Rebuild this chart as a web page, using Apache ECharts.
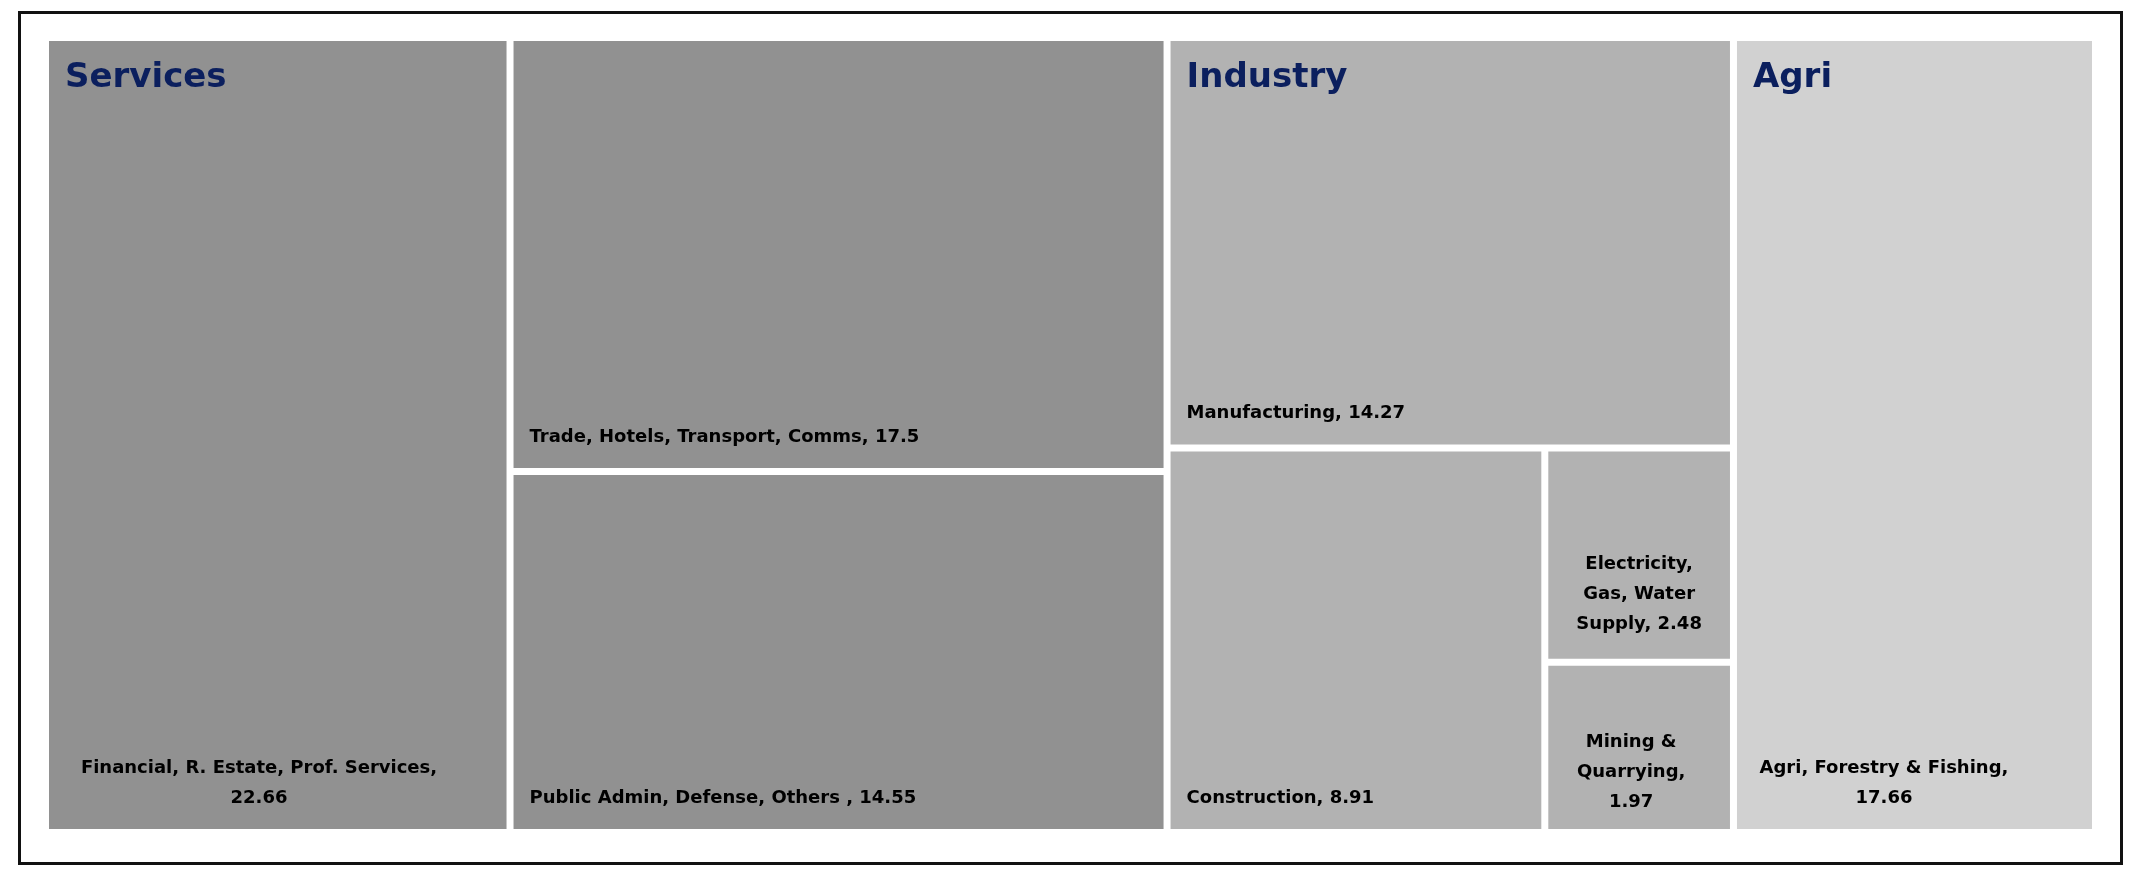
<!DOCTYPE html>
<html><head><meta charset="utf-8">
<script src="https://cdn.jsdelivr.net/npm/echarts@6/dist/echarts.min.js"></script>
<style>html,body{margin:0;padding:0;background:#fff}#c{width:2138px;height:884px}
#frame{position:absolute;left:18px;top:11px;width:2099px;height:848px;border:3px solid #111;pointer-events:none}</style>
</head><body><div id="c"></div><div id="frame"></div>
<script>
const groups = ['Services', 'Industry', 'Agri'];
const groupColors = ['#919191', '#b2b2b2', '#d1d1d1'];
const servicesNames = ['Financial, R. Estate, Prof. Services', 'Trade, Hotels, Transport, Comms', 'Public Admin, Defense, Others '];
const servicesValues = [22.66, 17.5, 14.55];
const industryNames = ['Manufacturing', 'Construction', 'Electricity, Gas, Water Supply', 'Mining & Quarrying'];
const industryValues = [14.27, 8.91, 2.48, 1.97];
const agriNames = ['Agri, Forestry & Fishing'];
const agriValues = [17.66];

const labelText = {
  'Financial, R. Estate, Prof. Services': 'Financial, R. Estate, Prof. Services,\n22.66',
  'Electricity, Gas, Water Supply': 'Electricity,\nGas, Water\nSupply, 2.48',
  'Mining & Quarrying': 'Mining &\nQuarrying,\n1.97',
  'Agri, Forestry & Fishing': 'Agri, Forestry & Fishing,\n17.66'
};

const sum = a => a.reduce((s, v) => s + v, 0);
const sT = sum(servicesValues), iT = sum(industryValues), aT = sum(agriValues);
const total = sT + iT + aT;
// slice-and-dice partition in value space (x: 0..100, y: 0..100)
const leafRects = [], groupRects = [];
let x = 0;
const sW = sT / total * 100, iW = iT / total * 100, aW = aT / total * 100;
groupRects.push([x, 0, x + sW, 100, 0]);
{
  const fW = servicesValues[0] / total * 100;
  leafRects.push([x, 0, x + fW, 100, 0, 0]);
  const rest = servicesValues[1] + servicesValues[2];
  const h1 = servicesValues[1] / rest * 100;
  leafRects.push([x + fW, 0, x + sW, h1, 0, 1]);
  leafRects.push([x + fW, h1, x + sW, 100, 0, 2]);
}
x += sW;
groupRects.push([x, 0, x + iW, 100, 1]);
{
  const mH = industryValues[0] / iT * 100;
  leafRects.push([x, 0, x + iW, mH, 1, 0]);
  const rest = iT - industryValues[0];
  const cW = industryValues[1] / rest * iW;
  leafRects.push([x, mH, x + cW, 100, 1, 1]);
  const r2 = industryValues[2] + industryValues[3];
  const eH = mH + industryValues[2] / r2 * (100 - mH);
  leafRects.push([x + cW, mH, x + iW, eH, 1, 2]);
  leafRects.push([x + cW, eH, x + iW, 100, 1, 3]);
}
x += iW;
groupRects.push([x, 0, x + aW, 100, 2]);
leafRects.push([x, 0, x + aW, 100, 2, 0]);

const namesBy = [servicesNames, industryNames, agriNames];
const valuesBy = [servicesValues, industryValues, agriValues];
const G = 3.5;
const FONT = 'bold 18px "DejaVu Sans"';
function rectPx(api, d) {
  const p0 = api.coord([d[0], d[1]]), p1 = api.coord([d[2], d[3]]);
  return {x: p0[0] + G, y: p0[1] + G, width: p1[0] - p0[0] - 2 * G, height: p1[1] - p0[1] - 2 * G};
}
function leafRender(params, api) {
  const d = leafRects[params.dataIndex];
  const g = d[4], k = d[5];
  const name = namesBy[g][k], val = valuesBy[g][k];
  const r = rectPx(api, d);
  const txt = labelText[name] || (name + ', ' + val);
  let tx = r.x + 16, ty = r.y + r.height - 16, al = 'left';
  if (g === 0 && k === 0) { tx = r.x + 210; al = 'center'; }
  if (g === 2) { tx = r.x + 147; al = 'center'; }
  if (g === 1 && k === 2) { tx = r.x + r.width / 2; al = 'center'; ty = r.y + r.height - 19; }
  if (g === 1 && k === 3) { tx = r.x + r.width / 2 - 8; al = 'center'; ty = r.y + r.height - 12; }
  return {type: 'group', children: [
    {type: 'rect', shape: r, style: {fill: groupColors[g]}},
    {type: 'text', style: {text: txt, x: tx, y: ty, align: al, verticalAlign: 'bottom',
      textAlign: al, textVerticalAlign: 'bottom', font: FONT, fill: '#000', lineHeight: 30}}
  ]};
}
function titleRender(params, api) {
  const d = groupRects[params.dataIndex];
  const r = rectPx(api, d);
  return {type: 'text', style: {text: groups[d[4]], x: r.x + 16, y: r.y + 20, align: 'left', verticalAlign: 'top',
    textAlign: 'left', textVerticalAlign: 'top', font: 'bold 34px "DejaVu Sans"', fill: '#0b1f5e'}};
}
const chart = echarts.init(document.getElementById('c'));
chart.setOption({
  animation: false,
  grid: {left: 45.5, right: 42.5, top: 37.5, bottom: 51.5},
  xAxis: {type: 'value', min: 0, max: 100, show: false},
  yAxis: {type: 'value', min: 0, max: 100, inverse: true, show: false},
  series: [
    {type: 'custom', renderItem: leafRender, data: leafRects, silent: true},
    {type: 'custom', renderItem: titleRender, data: groupRects, silent: true, z: 5}
  ]
});
</script></body></html>
